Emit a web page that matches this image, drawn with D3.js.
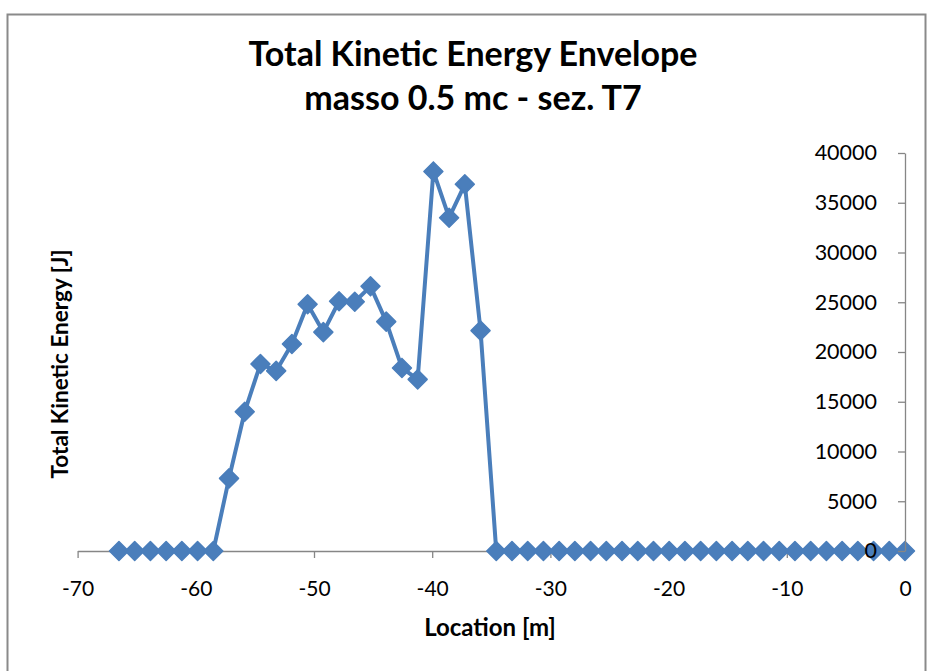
<!DOCTYPE html>
<html>
<head>
<meta charset="utf-8">
<script src="https://cdn.jsdelivr.net/npm/d3@7"></script>
<style>
  html, body { margin: 0; padding: 0; background: #fff; }
  svg { display: block; }
  text { font-family: Lato, "Open Sans", sans-serif; fill: #000; }
</style>
</head>
<body>
<svg id="chart" width="930" height="671"></svg>
<script>
// ---- data ----
const locations = [
  -66.5, -65.17, -63.84, -62.51, -61.18, -59.85, -58.52, -57.19, -55.86, -54.53,
  -53.2, -51.87, -50.54, -49.21, -47.88, -46.55, -45.22, -43.89, -42.56, -41.23,
  -39.9, -38.57, -37.24, -35.91, -34.58, -33.25, -31.92, -30.59, -29.26, -27.93,
  -26.6, -25.27, -23.94, -22.61, -21.28, -19.95, -18.62, -17.29, -15.96, -14.63,
  -13.3, -11.97, -10.64, -9.31, -7.98, -6.65, -5.32, -3.99, -2.66, -1.33, 0
];
const energy = [
  0, 0, 0, 0, 0, 0, 0, 7300, 14000, 18800,
  18100, 20800, 24800, 22000, 25100, 25050, 26600, 23050, 18400, 17250,
  38150, 33500, 36850, 22150, 0, 0, 0, 0, 0, 0,
  0, 0, 0, 0, 0, 0, 0, 0, 0, 0,
  0, 0, 0, 0, 0, 0, 0, 0, 0, 0, 0
];
const xTicks = [-70, -60, -50, -40, -30, -20, -10, 0];
const yTicks = [0, 5000, 10000, 15000, 20000, 25000, 30000, 35000, 40000];
const titleLines = ["Total Kinetic Energy Envelope", "masso 0.5 mc - sez. T7"];
const xTitle = "Location [m]";
const yTitle = "Total Kinetic Energy [J]";

// ---- layout ----
const svg = d3.select("#chart");
const plot = { left: 77.6, right: 905, top: 153, bottom: 551 };
const axisColor = "#868686";
const seriesColor = "#4A7EBB";

// outer chart border
svg.append("rect")
  .attr("x", 7.5).attr("y", 14.5)
  .attr("width", 918).attr("height", 670)
  .attr("fill", "none").attr("stroke", "#8a8a8a").attr("stroke-width", 2);

const x = d3.scaleLinear().domain([-70, 0]).range([plot.left, plot.right]);
const y = d3.scaleLinear().domain([0, 40000]).range([plot.bottom, plot.top]);

// x axis (at y = 0)
const xAxis = d3.axisBottom(x).tickValues(xTicks).tickSize(7).tickSizeOuter(0).tickPadding(23)
  .tickFormat(d3.format("d"));
const gx = svg.append("g").attr("transform", `translate(0,${y(0)})`).call(xAxis);
gx.select(".domain").attr("stroke", axisColor).attr("stroke-width", 1.3);
gx.selectAll(".tick line").attr("stroke", axisColor).attr("stroke-width", 1.3);
gx.selectAll(".tick text").attr("font-size", 21).attr("fill", "#000")
  .attr("font-family", "Lato, sans-serif")
  .text(d => d < 0 ? "-" + Math.abs(d) : String(d));

// y axis (at x = 0, labels on the left)
const yAxis = d3.axisLeft(y).tickValues(yTicks).tickSize(7).tickSizeOuter(0).tickPadding(21)
  .tickFormat(d3.format("d"));
const gy = svg.append("g").attr("transform", `translate(${x(0)},0)`).call(yAxis);
gy.select(".domain").attr("stroke", axisColor).attr("stroke-width", 1.3);
gy.selectAll(".tick line").attr("stroke", axisColor).attr("stroke-width", 1.3);
gy.selectAll(".tick text").attr("font-size", 21.5).attr("fill", "#000")
  .attr("font-family", "Lato, sans-serif");

// series line
const pts = locations.map((l, i) => [l, energy[i]]);
svg.append("path")
  .datum(pts)
  .attr("fill", "none")
  .attr("stroke", seriesColor)
  .attr("stroke-width", 4)
  .attr("stroke-linejoin", "round")
  .attr("d", d3.line().x(d => x(d[0])).y(d => y(d[1])));

// diamond markers
const r = 9.5;
svg.append("g").selectAll("path")
  .data(pts)
  .join("path")
  .attr("transform", d => `translate(${x(d[0])},${y(d[1])})`)
  .attr("d", `M0,${-r}L${r},0L0,${r}L${-r},0Z`)
  .attr("fill", seriesColor)
  .attr("stroke", seriesColor)
  .attr("stroke-width", 1.5)
  .attr("stroke-linejoin", "round");

// bring y tick labels above markers (the "0" label overlaps markers)
gy.raise();
gy.select(".domain").raise();

// titles
svg.append("text")
  .attr("x", 473).attr("y", 66)
  .attr("text-anchor", "middle")
  .attr("font-size", 34).attr("font-weight", "bold")
  .text(titleLines[0]);
svg.append("text")
  .attr("x", 473).attr("y", 110)
  .attr("text-anchor", "middle")
  .attr("font-size", 34).attr("font-weight", "bold")
  .text(titleLines[1]);

svg.append("text")
  .attr("x", 490).attr("y", 636)
  .attr("text-anchor", "middle")
  .attr("font-size", 24).attr("font-weight", "bold")
  .text(xTitle);

svg.append("text")
  .attr("transform", "translate(68,364) rotate(-90)")
  .attr("text-anchor", "middle")
  .attr("font-size", 22.5).attr("font-weight", "bold")
  .text(yTitle);
</script>
</body>
</html>
